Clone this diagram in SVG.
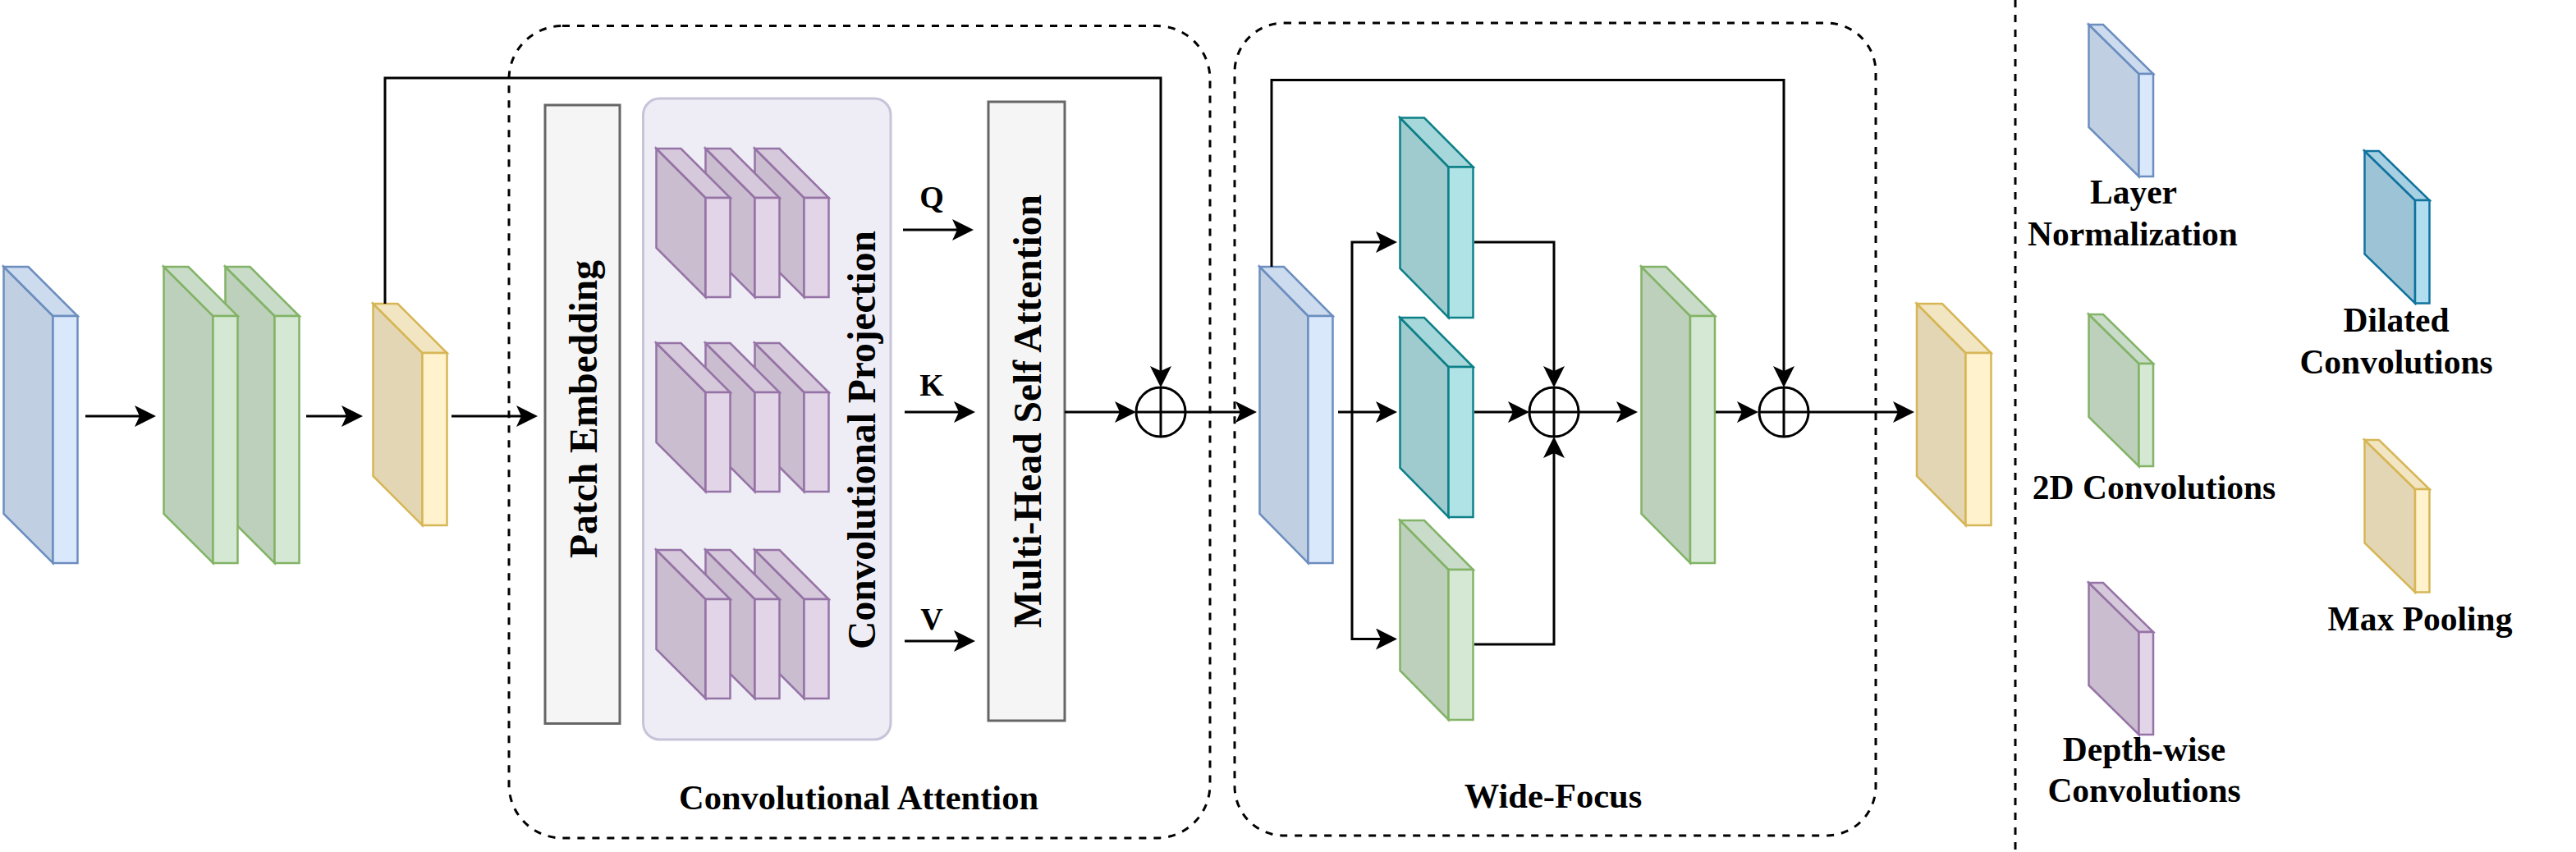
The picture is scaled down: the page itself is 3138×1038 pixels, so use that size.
<svg xmlns="http://www.w3.org/2000/svg" width="3138" height="1038" viewBox="0 0 3138 1038">
<defs>
<style>
.slab polygon,.slab rect{stroke-width:2.5;stroke-linejoin:miter}
.blue polygon,.blue rect{stroke:#6c8ebf}.blue .f{fill:#dae8fc}.blue .t{fill:#cddbef}.blue .s{fill:#c1cfe3}
.green polygon,.green rect{stroke:#82b366}.green .f{fill:#d5e8d4}.green .t{fill:#c9dcc9}.green .s{fill:#bdd0bc}
.yellow polygon,.yellow rect{stroke:#d6b656}.yellow .f{fill:#fff2cc}.yellow .t{fill:#f2e5c1}.yellow .s{fill:#e3d6b4}
.purple polygon,.purple rect{stroke:#9673a6}.purple .f{fill:#e1d5e7}.purple .t{fill:#d5c9db}.purple .s{fill:#c9bdcf}
.teal polygon,.teal rect{stroke:#0e8088}.teal .f{fill:#b0e3e6}.teal .t{fill:#a6d7da}.teal .s{fill:#9fcbce}
.dil polygon,.dil rect{stroke:#10739e}.dil .f{fill:#b1ddf0}.dil .t{fill:#a7d0e2}.dil .s{fill:#9dc4d6}
.box{fill:#f5f5f5;stroke:#666666;stroke-width:3}
.proj{fill:#eeedf5;stroke:#c7c3d8;stroke-width:3}
.dash{fill:none;stroke:#000;stroke-width:3;stroke-dasharray:9 9}
.edge{fill:none;stroke:#000;stroke-width:3;stroke-linejoin:miter}
.arr{marker-end:url(#ah)}
.plus circle{fill:#fff;stroke:#000;stroke-width:3}
.plus line{stroke:#000;stroke-width:3}
text{font-family:"Liberation Serif","Times New Roman",serif;font-weight:bold;fill:#000}
.vt{font-size:47.5px;text-anchor:middle}
.lg{font-size:41.5px;text-anchor:middle}
.qkv{font-size:38px;text-anchor:middle}
.ttl{font-size:42.5px;text-anchor:middle}
</style>
<marker id="ah" markerUnits="userSpaceOnUse" markerWidth="26" markerHeight="26" viewBox="0 0 26 26" refX="6" refY="13" orient="auto">
<path d="M0,0 L26,13 L0,26 L6,13 Z" fill="#000"/>
</marker>
</defs>
<rect width="3138" height="1038" fill="#fff"/>

<!-- containers -->
<g id="conv-attention-box"><rect class="dash" x="620" y="31.5" width="854" height="989.5" rx="65"/></g>
<g id="wide-focus-box"><rect class="dash" x="1504" y="28" width="781" height="990" rx="60"/></g>
<g id="separator"><line class="dash" x1="2455" y1="0" x2="2455" y2="1038"/></g>

<!-- input layers -->
<g id="layer-norm-in" class="slab blue">
<polygon class="s" points="4.5,325 64.5,385 64.5,686 4.5,626"/>
<polygon class="t" points="4.5,325 34.5,325 94.5,385 64.5,385"/>
<rect class="f" x="64.5" y="385" width="30" height="301"/>
</g>
<g id="conv2d-in-2" class="slab green">
<polygon class="s" points="274.5,325 334.5,385 334.5,686 274.5,626"/>
<polygon class="t" points="274.5,325 304.5,325 364.5,385 334.5,385"/>
<rect class="f" x="334.5" y="385" width="30" height="301"/>
</g>
<g id="conv2d-in-1" class="slab green">
<polygon class="s" points="199.5,325 259.5,385 259.5,686 199.5,626"/>
<polygon class="t" points="199.5,325 229.5,325 289.5,385 259.5,385"/>
<rect class="f" x="259.5" y="385" width="30" height="301"/>
</g>
<g id="maxpool-in" class="slab yellow">
<polygon class="s" points="454.5,370 514.5,430 514.5,640 454.5,580"/>
<polygon class="t" points="454.5,370 484.5,370 544.5,430 514.5,430"/>
<rect class="f" x="514.5" y="430" width="30" height="210"/>
</g>

<!-- convolutional attention -->
<g id="patch-embedding">
<rect class="box" x="664" y="128" width="91" height="753.5"/>
<text class="vt" transform="translate(727,498.5) rotate(-90)">Patch Embedding</text>
</g>
<g id="conv-projection">
<rect class="proj" x="783.5" y="120" width="301.5" height="781" rx="20"/>
<g id="dw-q" class="slab purple">
<polygon class="s" points="919.5,181 979.5,241 979.5,362 919.5,302"/>
<polygon class="t" points="919.5,181 949.5,181 1009.5,241 979.5,241"/>
<rect class="f" x="979.5" y="241" width="30" height="121"/>
<polygon class="s" points="859.5,181 919.5,241 919.5,362 859.5,302"/>
<polygon class="t" points="859.5,181 889.5,181 949.5,241 919.5,241"/>
<rect class="f" x="919.5" y="241" width="30" height="121"/>
<polygon class="s" points="799.5,181 859.5,241 859.5,362 799.5,302"/>
<polygon class="t" points="799.5,181 829.5,181 889.5,241 859.5,241"/>
<rect class="f" x="859.5" y="241" width="30" height="121"/>
</g>
<g id="dw-k" class="slab purple">
<polygon class="s" points="919.5,418 979.5,478 979.5,599 919.5,539"/>
<polygon class="t" points="919.5,418 949.5,418 1009.5,478 979.5,478"/>
<rect class="f" x="979.5" y="478" width="30" height="121"/>
<polygon class="s" points="859.5,418 919.5,478 919.5,599 859.5,539"/>
<polygon class="t" points="859.5,418 889.5,418 949.5,478 919.5,478"/>
<rect class="f" x="919.5" y="478" width="30" height="121"/>
<polygon class="s" points="799.5,418 859.5,478 859.5,599 799.5,539"/>
<polygon class="t" points="799.5,418 829.5,418 889.5,478 859.5,478"/>
<rect class="f" x="859.5" y="478" width="30" height="121"/>
</g>
<g id="dw-v" class="slab purple">
<polygon class="s" points="919.5,670 979.5,730 979.5,851 919.5,791"/>
<polygon class="t" points="919.5,670 949.5,670 1009.5,730 979.5,730"/>
<rect class="f" x="979.5" y="730" width="30" height="121"/>
<polygon class="s" points="859.5,670 919.5,730 919.5,851 859.5,791"/>
<polygon class="t" points="859.5,670 889.5,670 949.5,730 919.5,730"/>
<rect class="f" x="919.5" y="730" width="30" height="121"/>
<polygon class="s" points="799.5,670 859.5,730 859.5,851 799.5,791"/>
<polygon class="t" points="799.5,670 829.5,670 889.5,730 859.5,730"/>
<rect class="f" x="859.5" y="730" width="30" height="121"/>
</g>
<text class="vt" transform="translate(1066,536) rotate(-90)">Convolutional Projection</text>
</g>
<g id="mhsa">
<rect class="box" x="1204" y="124" width="93" height="754"/>
<text class="vt" transform="translate(1268,501) rotate(-90)">Multi-Head Self Attention</text>
</g>
<g id="qkv-labels">
<text class="qkv" x="1135" y="253">Q</text>
<text class="qkv" x="1135" y="482">K</text>
<text class="qkv" x="1135" y="767">V</text>
</g>
<g id="add-1" class="plus">
<circle cx="1414" cy="502" r="30"/>
<line x1="1384" y1="502" x2="1444" y2="502"/><line x1="1414" y1="472" x2="1414" y2="532"/>
</g>
<text id="conv-attention-title" class="ttl" x="1046" y="986">Convolutional Attention</text>

<!-- wide-focus -->
<g id="layer-norm-wf" class="slab blue">
<polygon class="s" points="1534.5,325 1593.5,385 1593.5,686 1534.5,626"/>
<polygon class="t" points="1534.5,325 1564,325 1623.5,385 1593.5,385"/>
<rect class="f" x="1593.5" y="385" width="30" height="301"/>
</g>
<g id="dilated-1" class="slab teal">
<polygon class="s" points="1705.5,143.5 1764.5,203.5 1764.5,387 1705.5,327"/>
<polygon class="t" points="1705.5,143.5 1735,143.5 1794.5,203.5 1764.5,203.5"/>
<rect class="f" x="1764.5" y="203.5" width="30" height="183.5"/>
</g>
<g id="dilated-2" class="slab teal">
<polygon class="s" points="1705.5,387 1764.5,447 1764.5,630 1705.5,570"/>
<polygon class="t" points="1705.5,387 1735,387 1794.5,447 1764.5,447"/>
<rect class="f" x="1764.5" y="447" width="30" height="183"/>
</g>
<g id="conv2d-wf" class="slab green">
<polygon class="s" points="1705.5,634 1764.5,694 1764.5,877 1705.5,817"/>
<polygon class="t" points="1705.5,634 1735,634 1794.5,694 1764.5,694"/>
<rect class="f" x="1764.5" y="694" width="30" height="183"/>
</g>
<g id="add-2" class="plus">
<circle cx="1893" cy="502" r="30"/>
<line x1="1863" y1="502" x2="1923" y2="502"/><line x1="1893" y1="472" x2="1893" y2="532"/>
</g>
<g id="conv2d-wf-out" class="slab green">
<polygon class="s" points="1999.5,325 2059,385 2059,686 1999.5,626"/>
<polygon class="t" points="1999.5,325 2029.5,325 2089,385 2059,385"/>
<rect class="f" x="2059" y="385" width="30" height="301"/>
</g>
<g id="add-3" class="plus">
<circle cx="2173" cy="502" r="30"/>
<line x1="2143" y1="502" x2="2203" y2="502"/><line x1="2173" y1="472" x2="2173" y2="532"/>
</g>
<text id="wide-focus-title" class="ttl" x="1892" y="984">Wide-Focus</text>

<!-- output -->
<g id="maxpool-out" class="slab yellow">
<polygon class="s" points="2335,370 2394.5,430 2394.5,640 2335,580"/>
<polygon class="t" points="2335,370 2366,370 2425.5,430 2394.5,430"/>
<rect class="f" x="2394.5" y="430" width="31" height="210"/>
</g>

<!-- connectors -->
<g id="connectors">
<line class="edge arr" x1="104" y1="507" x2="170" y2="507"/>
<line class="edge arr" x1="373" y1="507" x2="422" y2="507"/>
<line class="edge arr" x1="550" y1="507" x2="635" y2="507"/>
<polyline class="edge arr" points="469,370 469,95 1414,95 1414,452"/>
<line class="edge arr" x1="1100" y1="280" x2="1166" y2="280"/>
<line class="edge arr" x1="1102" y1="502" x2="1168" y2="502"/>
<line class="edge arr" x1="1102" y1="781" x2="1168" y2="781"/>
<line class="edge arr" x1="1297" y1="502" x2="1364" y2="502"/>
<line class="edge arr" x1="1444" y1="502" x2="1511" y2="502"/>
<polyline class="edge arr" points="1549,325 1549,97.5 2173,97.5 2173,452"/>
<line class="edge arr" x1="1630" y1="502" x2="1682" y2="502"/>
<polyline class="edge arr" points="1647,502 1647,295 1682,295"/>
<polyline class="edge arr" points="1647,502 1647,778.5 1682,778.5"/>
<polyline class="edge arr" points="1796,295 1893,295 1893,452"/>
<line class="edge arr" x1="1796" y1="502" x2="1843" y2="502"/>
<polyline class="edge arr" points="1796,785 1893,785 1893,552"/>
<line class="edge arr" x1="1923" y1="502" x2="1975" y2="502"/>
<line class="edge arr" x1="2090" y1="502" x2="2122" y2="502"/>
<line class="edge arr" x1="2203" y1="502" x2="2312" y2="502"/>
</g>

<!-- legend -->
<g id="legend-layer-norm">
<g class="slab blue">
<polygon class="s" points="2544.5,30 2605.5,90 2605.5,215 2544.5,155"/>
<polygon class="t" points="2544.5,30 2562,30 2623,90 2605.5,90"/>
<rect class="f" x="2605.5" y="90" width="17.5" height="125"/>
</g>
<text class="lg" x="2599" y="248">Layer</text>
<text class="lg" x="2598" y="299">Normalization</text>
</g>
<g id="legend-conv2d">
<g class="slab green">
<polygon class="s" points="2544.5,383 2605.5,443 2605.5,568 2544.5,508"/>
<polygon class="t" points="2544.5,383 2562,383 2623,443 2605.5,443"/>
<rect class="f" x="2605.5" y="443" width="17.5" height="125"/>
</g>
<text class="lg" x="2624" y="608">2D Convolutions</text>
</g>
<g id="legend-depthwise">
<g class="slab purple">
<polygon class="s" points="2544.5,710 2605.5,770 2605.5,895 2544.5,835"/>
<polygon class="t" points="2544.5,710 2562,710 2623,770 2605.5,770"/>
<rect class="f" x="2605.5" y="770" width="17.5" height="125"/>
</g>
<text class="lg" x="2612" y="927">Depth-wise</text>
<text class="lg" x="2612" y="977">Convolutions</text>
</g>
<g id="legend-dilated">
<g class="slab dil">
<polygon class="s" points="2880.5,184 2942,244 2942,369.5 2880.5,309.5"/>
<polygon class="t" points="2880.5,184 2898,184 2959.5,244 2942,244"/>
<rect class="f" x="2942" y="244" width="17.5" height="125.5"/>
</g>
<text class="lg" x="2919" y="404">Dilated</text>
<text class="lg" x="2919" y="455">Convolutions</text>
</g>
<g id="legend-maxpool">
<g class="slab yellow">
<polygon class="s" points="2880.5,536 2942,596 2942,721.5 2880.5,661.5"/>
<polygon class="t" points="2880.5,536 2898,536 2959.5,596 2942,596"/>
<rect class="f" x="2942" y="596" width="17.5" height="125.5"/>
</g>
<text class="lg" x="2948" y="768">Max Pooling</text>
</g>
</svg>
